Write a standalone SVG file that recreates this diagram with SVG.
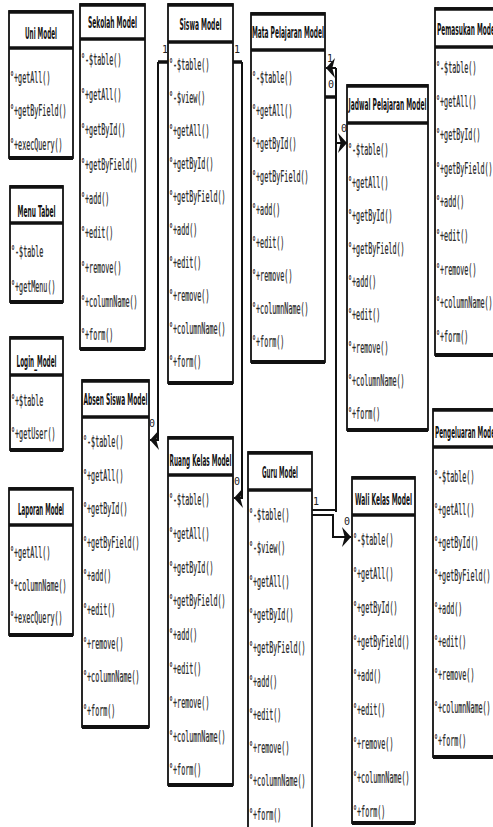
<svg xmlns="http://www.w3.org/2000/svg" width="493" height="827" viewBox="0 0 493 827">
<style>
.bg{fill:#fff}
.box{fill:#fff;stroke:#111;stroke-width:1.8}
.tk{stroke:#111;stroke-width:3.5}
.bt{stroke:#111;stroke-width:4}
.t{font-family:"DejaVu Sans","Liberation Sans",sans-serif;font-size:16px;font-weight:bold;fill:#141414;text-anchor:middle}
.ts{text-anchor:start}
.m{font-family:"DejaVu Sans Mono","Liberation Mono",monospace;font-size:15px;fill:#2a2a2a;stroke:#2a2a2a;stroke-width:0.25}
.c{fill:none;stroke:#111;stroke-width:2}
.cs{fill:none;stroke:#111;stroke-width:3.5}
.l{font-family:"DejaVu Sans Mono","Liberation Mono",monospace;font-size:10px;fill:#222;text-anchor:middle}
</style>
<defs>
<marker id="arr" viewBox="0 0 10 10" refX="10" refY="5" markerWidth="9" markerHeight="20" markerUnits="userSpaceOnUse" orient="auto" preserveAspectRatio="none">
<path d="M0,0 L10,5 L0,10 L3,5 z" fill="#111"/>
</marker>
</defs>
<rect class="bg" x="0" y="0" width="493" height="827"/>

<g id="uni-model">
<rect class="box" x="9" y="11" width="64" height="147"/>
<line class="tk" x1="9" y1="12" x2="73" y2="12"/><line class="tk" x1="9" y1="48" x2="73" y2="48"/><line class="bt" x1="9" y1="158" x2="73" y2="158"/>
<text class="t" transform="matrix(.365 0 0 1 41 39)" textLength="87.7" lengthAdjust="spacingAndGlyphs">Uni Model</text>
<text class="m" transform="matrix(.4485 0 0 1 10 83)">°+getAll()</text>
<text class="m" transform="matrix(.4485 0 0 1 10 116)">°+getByField()</text>
<text class="m" transform="matrix(.4485 0 0 1 10 150)">°+execQuery()</text>
</g>

<g id="menu-tabel">
<rect class="box" x="10" y="186" width="53" height="116"/>
<line class="tk" x1="10" y1="187" x2="63" y2="187"/><line class="tk" x1="10" y1="223" x2="63" y2="223"/><line class="bt" x1="10" y1="302" x2="63" y2="302"/>
<text class="t" transform="matrix(.365 0 0 1 36.5 217)" textLength="104.1" lengthAdjust="spacingAndGlyphs">Menu Tabel</text>
<text class="m" transform="matrix(.4485 0 0 1 11 257)">°-$table</text>
<text class="m" transform="matrix(.4485 0 0 1 11 292)">°+getMenu()</text>
</g>

<g id="login-model">
<rect class="box" x="10" y="337" width="53" height="113"/>
<line class="tk" x1="10" y1="338" x2="63" y2="338"/><line class="tk" x1="10" y1="375" x2="63" y2="375"/><line class="bt" x1="10" y1="450" x2="63" y2="450"/>
<text class="t" transform="matrix(.365 0 0 1 36.5 367)" textLength="109.6" lengthAdjust="spacingAndGlyphs">Login_Model</text>
<text class="m" transform="matrix(.4485 0 0 1 11 406)">°+$table</text>
<text class="m" transform="matrix(.4485 0 0 1 11 439)">°+getUser()</text>
</g>

<g id="laporan-model">
<rect class="box" x="9" y="488" width="64" height="147"/>
<line class="tk" x1="9" y1="489" x2="73" y2="489"/><line class="tk" x1="9" y1="525" x2="73" y2="525"/><line class="bt" x1="9" y1="635" x2="73" y2="635"/>
<text class="t" transform="matrix(.365 0 0 1 41 515)" textLength="126" lengthAdjust="spacingAndGlyphs">Laporan Model</text>
<text class="m" transform="matrix(.4485 0 0 1 10 558)">°+getAll()</text>
<text class="m" transform="matrix(.4485 0 0 1 10 591)">°+columnName()</text>
<text class="m" transform="matrix(.4485 0 0 1 10 623)">°+execQuery()</text>
</g>

<g id="sekolah-model">
<rect class="box" x="80" y="4" width="65" height="345"/>
<line class="tk" x1="80" y1="5" x2="145" y2="5"/><line class="tk" x1="80" y1="39" x2="145" y2="39"/><line class="bt" x1="80" y1="349" x2="145" y2="349"/>
<text class="t" transform="matrix(.365 0 0 1 112.5 28)" textLength="134.2" lengthAdjust="spacingAndGlyphs">Sekolah Model</text>
<text class="m" transform="matrix(.4485 0 0 1 81 65)">°-$table()</text>
<text class="m" transform="matrix(.4485 0 0 1 81 100)">°+getAll()</text>
<text class="m" transform="matrix(.4485 0 0 1 81 135)">°+getById()</text>
<text class="m" transform="matrix(.4485 0 0 1 81 170)">°+getByField()</text>
<text class="m" transform="matrix(.4485 0 0 1 81 204)">°+add()</text>
<text class="m" transform="matrix(.4485 0 0 1 81 238)">°+edit()</text>
<text class="m" transform="matrix(.4485 0 0 1 81 273)">°+remove()</text>
<text class="m" transform="matrix(.4485 0 0 1 81 307)">°+columnName()</text>
<text class="m" transform="matrix(.4485 0 0 1 81 340)">°+form()</text>
</g>

<g id="siswa-model">
<rect class="box" x="168" y="4" width="65" height="379"/>
<line class="tk" x1="168" y1="5" x2="233" y2="5"/><line class="tk" x1="168" y1="42" x2="233" y2="42"/><line class="bt" x1="168" y1="383" x2="233" y2="383"/>
<text class="t" transform="matrix(.365 0 0 1 200.5 30)" textLength="115.1" lengthAdjust="spacingAndGlyphs">Siswa Model</text>
<text class="m" transform="matrix(.4485 0 0 1 169 70)">°-$table()</text>
<text class="m" transform="matrix(.4485 0 0 1 169 103)">°-$view()</text>
<text class="m" transform="matrix(.4485 0 0 1 169 136)">°+getAll()</text>
<text class="m" transform="matrix(.4485 0 0 1 169 169)">°+getById()</text>
<text class="m" transform="matrix(.4485 0 0 1 169 202)">°+getByField()</text>
<text class="m" transform="matrix(.4485 0 0 1 169 235)">°+add()</text>
<text class="m" transform="matrix(.4485 0 0 1 169 268)">°+edit()</text>
<text class="m" transform="matrix(.4485 0 0 1 169 301)">°+remove()</text>
<text class="m" transform="matrix(.4485 0 0 1 169 334)">°+columnName()</text>
<text class="m" transform="matrix(.4485 0 0 1 169 367)">°+form()</text>
</g>

<g id="mata-pelajaran-model">
<rect class="box" x="251" y="13" width="74" height="349"/>
<line class="tk" x1="251" y1="14" x2="325" y2="14"/><line class="tk" x1="251" y1="50" x2="325" y2="50"/><line class="bt" x1="251" y1="362" x2="325" y2="362"/>
<text class="t" transform="matrix(.365 0 0 1 288 38)" textLength="197.3" lengthAdjust="spacingAndGlyphs">Mata Pelajaran Model</text>
<text class="m" transform="matrix(.4485 0 0 1 252 83)">°-$table()</text>
<text class="m" transform="matrix(.4485 0 0 1 252 116)">°+getAll()</text>
<text class="m" transform="matrix(.4485 0 0 1 252 149)">°+getById()</text>
<text class="m" transform="matrix(.4485 0 0 1 252 182)">°+getByField()</text>
<text class="m" transform="matrix(.4485 0 0 1 252 215)">°+add()</text>
<text class="m" transform="matrix(.4485 0 0 1 252 248)">°+edit()</text>
<text class="m" transform="matrix(.4485 0 0 1 252 281)">°+remove()</text>
<text class="m" transform="matrix(.4485 0 0 1 252 314)">°+columnName()</text>
<text class="m" transform="matrix(.4485 0 0 1 252 347)">°+form()</text>
</g>

<g id="jadwal-pelajaran-model">
<rect class="box" x="347" y="85" width="81" height="345"/>
<line class="tk" x1="347" y1="86" x2="428" y2="86"/><line class="tk" x1="347" y1="123" x2="428" y2="123"/><line class="bt" x1="347" y1="430" x2="428" y2="430"/>
<text class="t" transform="matrix(.365 0 0 1 387.5 110)" textLength="213.7" lengthAdjust="spacingAndGlyphs">Jadwal Pelajaran Model</text>
<text class="m" transform="matrix(.4485 0 0 1 348 155)">°-$table()</text>
<text class="m" transform="matrix(.4485 0 0 1 348 188)">°+getAll()</text>
<text class="m" transform="matrix(.4485 0 0 1 348 221)">°+getById()</text>
<text class="m" transform="matrix(.4485 0 0 1 348 254)">°+getByField()</text>
<text class="m" transform="matrix(.4485 0 0 1 348 287)">°+add()</text>
<text class="m" transform="matrix(.4485 0 0 1 348 320)">°+edit()</text>
<text class="m" transform="matrix(.4485 0 0 1 348 353)">°+remove()</text>
<text class="m" transform="matrix(.4485 0 0 1 348 386)">°+columnName()</text>
<text class="m" transform="matrix(.4485 0 0 1 348 419)">°+form()</text>
</g>

<g id="pemasukan-model">
<rect class="box" x="435" y="8" width="70" height="347"/>
<line class="tk" x1="435" y1="9" x2="505" y2="9"/><line class="tk" x1="435" y1="47" x2="505" y2="47"/><line class="bt" x1="435" y1="355" x2="505" y2="355"/>
<text class="t ts" transform="matrix(.365 0 0 1 437 35)" textLength="164.4" lengthAdjust="spacingAndGlyphs">Pemasukan Model</text>
<text class="m" transform="matrix(.4485 0 0 1 436 73)">°-$table()</text>
<text class="m" transform="matrix(.4485 0 0 1 436 107)">°+getAll()</text>
<text class="m" transform="matrix(.4485 0 0 1 436 140)">°+getById()</text>
<text class="m" transform="matrix(.4485 0 0 1 436 174)">°+getByField()</text>
<text class="m" transform="matrix(.4485 0 0 1 436 207)">°+add()</text>
<text class="m" transform="matrix(.4485 0 0 1 436 241)">°+edit()</text>
<text class="m" transform="matrix(.4485 0 0 1 436 275)">°+remove()</text>
<text class="m" transform="matrix(.4485 0 0 1 436 308)">°+columnName()</text>
<text class="m" transform="matrix(.4485 0 0 1 436 342)">°+form()</text>
</g>

<g id="absen-siswa-model">
<rect class="box" x="82" y="380" width="67" height="347"/>
<line class="tk" x1="82" y1="381" x2="149" y2="381"/><line class="tk" x1="82" y1="417" x2="149" y2="417"/><line class="bt" x1="82" y1="727" x2="149" y2="727"/>
<text class="t" transform="matrix(.365 0 0 1 115.5 405)" textLength="175.3" lengthAdjust="spacingAndGlyphs">Absen Siswa Model</text>
<text class="m" transform="matrix(.4485 0 0 1 83 447)">°-$table()</text>
<text class="m" transform="matrix(.4485 0 0 1 83 481)">°+getAll()</text>
<text class="m" transform="matrix(.4485 0 0 1 83 514)">°+getById()</text>
<text class="m" transform="matrix(.4485 0 0 1 83 548)">°+getByField()</text>
<text class="m" transform="matrix(.4485 0 0 1 83 581)">°+add()</text>
<text class="m" transform="matrix(.4485 0 0 1 83 615)">°+edit()</text>
<text class="m" transform="matrix(.4485 0 0 1 83 649)">°+remove()</text>
<text class="m" transform="matrix(.4485 0 0 1 83 682)">°+columnName()</text>
<text class="m" transform="matrix(.4485 0 0 1 83 716)">°+form()</text>
</g>

<g id="ruang-kelas-model">
<rect class="box" x="168" y="437" width="65" height="348"/>
<line class="tk" x1="168" y1="438" x2="233" y2="438"/><line class="tk" x1="168" y1="475" x2="233" y2="475"/><line class="bt" x1="168" y1="785" x2="233" y2="785"/>
<text class="t" transform="matrix(.365 0 0 1 200.5 466)" textLength="169.9" lengthAdjust="spacingAndGlyphs">Ruang Kelas Model</text>
<text class="m" transform="matrix(.4485 0 0 1 169 505)">°-$table()</text>
<text class="m" transform="matrix(.4485 0 0 1 169 539)">°+getAll()</text>
<text class="m" transform="matrix(.4485 0 0 1 169 573)">°+getById()</text>
<text class="m" transform="matrix(.4485 0 0 1 169 606)">°+getByField()</text>
<text class="m" transform="matrix(.4485 0 0 1 169 640)">°+add()</text>
<text class="m" transform="matrix(.4485 0 0 1 169 674)">°+edit()</text>
<text class="m" transform="matrix(.4485 0 0 1 169 708)">°+remove()</text>
<text class="m" transform="matrix(.4485 0 0 1 169 742)">°+columnName()</text>
<text class="m" transform="matrix(.4485 0 0 1 169 775)">°+form()</text>
</g>

<g id="guru-model">
<rect class="box" x="248" y="452" width="64" height="385"/>
<line class="tk" x1="248" y1="453" x2="312" y2="453"/><line class="tk" x1="248" y1="490" x2="312" y2="490"/>
<text class="t" transform="matrix(.365 0 0 1 280 478)" textLength="98.6" lengthAdjust="spacingAndGlyphs">Guru Model</text>
<text class="m" transform="matrix(.4485 0 0 1 249 520)">°-$table()</text>
<text class="m" transform="matrix(.4485 0 0 1 249 553)">°-$view()</text>
<text class="m" transform="matrix(.4485 0 0 1 249 587)">°+getAll()</text>
<text class="m" transform="matrix(.4485 0 0 1 249 620)">°+getById()</text>
<text class="m" transform="matrix(.4485 0 0 1 249 653)">°+getByField()</text>
<text class="m" transform="matrix(.4485 0 0 1 249 687)">°+add()</text>
<text class="m" transform="matrix(.4485 0 0 1 249 720)">°+edit()</text>
<text class="m" transform="matrix(.4485 0 0 1 249 753)">°+remove()</text>
<text class="m" transform="matrix(.4485 0 0 1 249 786)">°+columnName()</text>
<text class="m" transform="matrix(.4485 0 0 1 249 820)">°+form()</text>
</g>

<g id="wali-kelas-model">
<rect class="box" x="352" y="477" width="63" height="346"/>
<line class="tk" x1="352" y1="478" x2="415" y2="478"/><line class="tk" x1="352" y1="515" x2="415" y2="515"/><line class="bt" x1="352" y1="823" x2="415" y2="823"/>
<text class="t" transform="matrix(.365 0 0 1 383.5 505)" textLength="156.2" lengthAdjust="spacingAndGlyphs">Wali Kelas Model</text>
<text class="m" transform="matrix(.4485 0 0 1 353 545)">°-$table()</text>
<text class="m" transform="matrix(.4485 0 0 1 353 579)">°+getAll()</text>
<text class="m" transform="matrix(.4485 0 0 1 353 613)">°+getById()</text>
<text class="m" transform="matrix(.4485 0 0 1 353 647)">°+getByField()</text>
<text class="m" transform="matrix(.4485 0 0 1 353 681)">°+add()</text>
<text class="m" transform="matrix(.4485 0 0 1 353 715)">°+edit()</text>
<text class="m" transform="matrix(.4485 0 0 1 353 749)">°+remove()</text>
<text class="m" transform="matrix(.4485 0 0 1 353 783)">°+columnName()</text>
<text class="m" transform="matrix(.4485 0 0 1 353 817)">°+form()</text>
</g>

<g id="pengeluaran-model">
<rect class="box" x="433" y="409" width="72" height="348"/>
<line class="tk" x1="433" y1="410" x2="505" y2="410"/><line class="tk" x1="433" y1="447" x2="505" y2="447"/><line class="bt" x1="433" y1="757" x2="505" y2="757"/>
<text class="t ts" transform="matrix(.365 0 0 1 435 438)" textLength="169.9" lengthAdjust="spacingAndGlyphs">Pengeluaran Model</text>
<text class="m" transform="matrix(.4485 0 0 1 434 482)">°-$table()</text>
<text class="m" transform="matrix(.4485 0 0 1 434 515)">°+getAll()</text>
<text class="m" transform="matrix(.4485 0 0 1 434 548)">°+getById()</text>
<text class="m" transform="matrix(.4485 0 0 1 434 581)">°+getByField()</text>
<text class="m" transform="matrix(.4485 0 0 1 434 614)">°+add()</text>
<text class="m" transform="matrix(.4485 0 0 1 434 647)">°+edit()</text>
<text class="m" transform="matrix(.4485 0 0 1 434 680)">°+remove()</text>
<text class="m" transform="matrix(.4485 0 0 1 434 713)">°+columnName()</text>
<text class="m" transform="matrix(.4485 0 0 1 434 746)">°+form()</text>
</g>

<g id="connectors">
<path class="cs" d="M168,62 H158"/>
<path class="c" d="M158,62 V440 H150" marker-end="url(#arr)"/>
<path class="cs" d="M233,62 H242"/>
<path class="c" d="M242,62 V498 H234" marker-end="url(#arr)"/>
<path class="c" d="M336,68 H326" marker-end="url(#arr)"/>
<path class="cs" d="M325,97 H337"/>
<path class="c" d="M336,68 V512"/>
<path class="c" d="M336,143 H347" marker-end="url(#arr)"/>
<path class="c" d="M312,510 H336"/>
<path class="c" d="M312,515 H333 V537 H351" marker-end="url(#arr)"/>
<text class="l" x="165" y="53">1</text>
<text class="l" x="237" y="53">1</text>
<text class="l" x="330" y="62">1</text>
<text class="l" x="331" y="88">0</text>
<text class="l" x="344" y="132">0</text>
<text class="l" x="152" y="427">0</text>
<text class="l" x="237" y="485">0</text>
<text class="l" x="316" y="505">1</text>
<text class="l" x="347" y="525">0</text>
</g>
</svg>
